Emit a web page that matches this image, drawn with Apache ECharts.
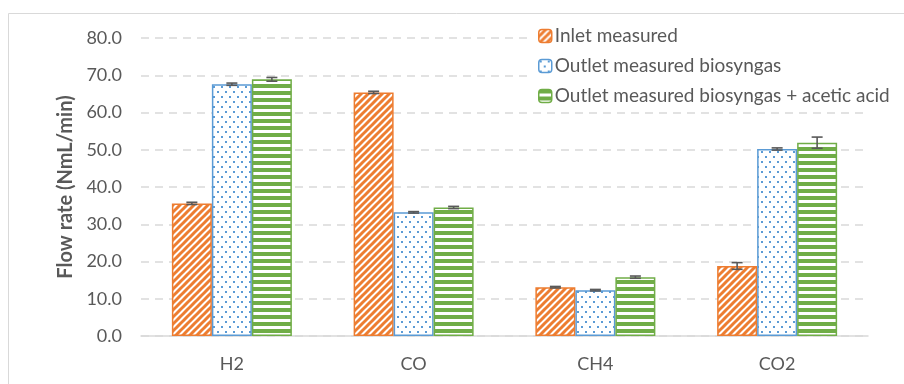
<!DOCTYPE html>
<html>
<head>
<meta charset="utf-8">
<script src="https://cdn.jsdelivr.net/npm/echarts@6/dist/echarts.min.js"></script>
<style>
  html, body { margin: 0; padding: 0; background: #fff; }
  #chart { width: 904px; height: 384px; }
</style>
</head>
<body>
<div id="chart"></div>
<script>
// Gas species on the x axis
const categories = ['H2', 'CO', 'CH4', 'CO2'];
// Y axis tick values
const yTicks = [0, 10, 20, 30, 40, 50, 60, 70, 80];

// Flow rates (NmL/min)
const inletMeasured = [35.6, 65.4, 13.1, 18.8];
const outletBiosyngas = [67.6, 33.2, 12.3, 50.2];
const outletBiosyngasAcetic = [68.9, 34.5, 15.8, 51.9];

// Standard deviations drawn as error bars
const inletErr = [0.3, 0.3, 0.2, 0.9];
const outletBiosyngasErr = [0.3, 0.2, 0.2, 0.3];
const outletBiosyngasAceticErr = [0.5, 0.3, 0.3, 1.5];

const seriesNames = [
  'Inlet measured',
  'Outlet measured biosyngas',
  'Outlet measured biosyngas + acetic acid'
];

const ORANGE = '#ED7D31';
const BLUE = '#5B9BD5';
const GREEN = '#70AD47';
const TEXT = '#595959';
const FONT = 'Lato, "Open Sans", sans-serif';
const BAR_W = 40;

// Fill patterns for the bars
function diagonalPattern() {
  const s = 7;
  const c = document.createElement('canvas');
  c.width = s; c.height = s;
  const g = c.getContext('2d');
  g.fillStyle = '#fff';
  g.fillRect(0, 0, s, s);
  g.strokeStyle = ORANGE;
  g.lineWidth = 3;
  g.beginPath();
  for (let k = -1; k <= 1; k++) {
    g.moveTo(k * s - 1, s + 1);
    g.lineTo(k * s + s + 1, -1);
  }
  g.stroke();
  return c;
}
function dotPattern() {
  const c = document.createElement('canvas');
  c.width = 8; c.height = 10;
  const g = c.getContext('2d');
  g.fillStyle = '#fff';
  g.fillRect(0, 0, 8, 10);
  g.fillStyle = BLUE;
  g.fillRect(1, 1, 2, 2);
  g.fillRect(5, 6, 2, 2);
  return c;
}
function hStripePattern() {
  const c = document.createElement('canvas');
  c.width = 4; c.height = 7;
  const g = c.getContext('2d');
  g.fillStyle = '#fff';
  g.fillRect(0, 0, 4, 7);
  g.fillStyle = GREEN;
  g.fillRect(0, 0, 4, 4);
  return c;
}

const fills = [
  { image: diagonalPattern(), repeat: 'repeat' },
  { image: dotPattern(), repeat: 'repeat' },
  { image: hStripePattern(), repeat: 'repeat' }
];
const borders = [ORANGE, BLUE, GREEN];
const values = [inletMeasured, outletBiosyngas, outletBiosyngasAcetic];
const errors = [inletErr, outletBiosyngasErr, outletBiosyngasAceticErr];

function barSeries(i) {
  return {
    name: seriesNames[i],
    type: 'bar',
    barWidth: BAR_W,
    barGap: '0%',
    data: values[i],
    itemStyle: {
      color: fills[i],
      borderColor: borders[i],
      borderWidth: 1.5
    },
    z: 2
  };
}

function errorSeries(i) {
  const offset = (i - 1) * BAR_W;
  return {
    type: 'custom',
    name: seriesNames[i] + ' error',
    data: values[i].map((v, k) => [k, v, errors[i][k]]),
    z: 5,
    silent: true,
    renderItem: function (params, api) {
      const idx = api.value(0);
      const v = api.value(1);
      const e = api.value(2);
      const hi = api.coord([idx, v + e]);
      const lo = api.coord([idx, v - e]);
      const x = hi[0] + offset;
      const hw = 5.5;
      const st = { stroke: '#595959', lineWidth: 1.6 };
      return {
        type: 'group',
        children: [
          { type: 'line', shape: { x1: x, y1: hi[1], x2: x, y2: lo[1] }, style: st },
          { type: 'line', shape: { x1: x - hw, y1: hi[1], x2: x + hw, y2: hi[1] }, style: st },
          { type: 'line', shape: { x1: x - hw, y1: lo[1], x2: x + hw, y2: lo[1] }, style: st }
        ]
      };
    }
  };
}

const chart = echarts.init(document.getElementById('chart'), null, { renderer: 'canvas' });

chart.setOption({
  animation: false,
  backgroundColor: '#fff',
  graphic: [{
    type: 'rect',
    shape: { x: 8.5, y: 13.5, width: 1200, height: 1200 },
    style: { fill: null, stroke: '#D9D9D9', lineWidth: 1 },
    silent: true,
    z: -10
  }],
  grid: { left: 141, right: 36, top: 38, bottom: 48 },
  legend: {
    data: seriesNames,
    orient: 'vertical',
    left: 530,
    top: 24,
    itemWidth: 13,
    itemHeight: 13,
    itemGap: 10,
    padding: [2, 8, 2, 8],
    backgroundColor: '#fff',
    textStyle: { color: TEXT, fontSize: 19, fontFamily: FONT, lineHeight: 20, padding: [0, 0, 0, -2] },
    selectedMode: false,
    itemStyle: { borderWidth: 1.5 }
  },
  xAxis: {
    type: 'category',
    data: categories,
    axisLine: { lineStyle: { color: '#D9D9D9', width: 1.5 } },
    axisTick: { show: false },
    axisLabel: { color: TEXT, fontSize: 18, fontFamily: FONT, margin: 19 }
  },
  yAxis: {
    type: 'value',
    min: yTicks[0],
    max: yTicks[yTicks.length - 1],
    interval: yTicks[1] - yTicks[0],
    name: 'Flow rate (NmL/min)',
    nameLocation: 'middle',
    nameGap: 64,
    nameTextStyle: { color: TEXT, fontSize: 20, fontWeight: 'bold', fontFamily: FONT },
    axisLine: { show: false },
    axisTick: { show: false },
    axisLabel: {
      color: TEXT, fontSize: 18, fontFamily: FONT, margin: 19,
      formatter: v => v.toFixed(1)
    },
    splitLine: { lineStyle: { color: '#D9D9D9', type: [8, 6], width: 1.5 } }
  },
  series: [0, 1, 2].map(barSeries).concat([0, 1, 2].map(errorSeries))
});
</script>
</body>
</html>
